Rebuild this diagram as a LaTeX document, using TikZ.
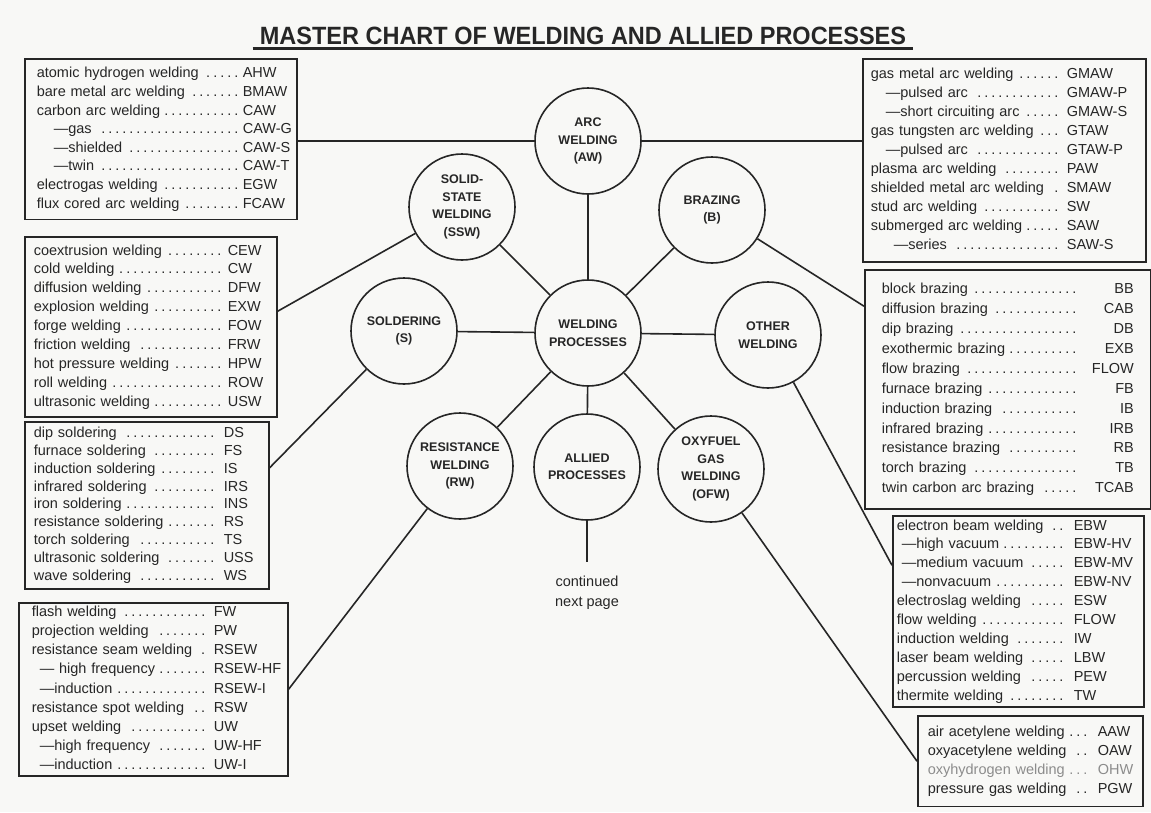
\documentclass[tikz,border=0pt]{standalone}
\usepackage{fontspec}
\setmainfont{Liberation Sans}
\usepackage{tikz}
\usetikzlibrary{calc}
\definecolor{ink}{HTML}{262626}
\definecolor{paper}{HTML}{F8F8F6}
\definecolor{faded}{HTML}{8C8C8C}
\newlength{\namecol}
\newcommand{\dotsto}{\leaders\hbox to 7pt{\hss.\hss}\hfill}
\newcommand{\ent}[2]{\strut\makebox[\namecol][l]{#1\,\dotsto}\kern3pt\mbox{#2}}
\newcommand{\subent}[3][17pt]{\ent{\hspace*{#1}---#2}{#3}}
\newcommand{\rent}[2]{\strut\makebox[\namecol][l]{#1\,\dotsto}\makebox[52pt][r]{#2}}
\newcommand{\listfont}[1]{\fontsize{14.5pt}{#1pt}\selectfont}
\tikzset{
    proc/.style={circle, draw=ink, line width=1.6pt, minimum size=106pt, inner sep=0pt, align=center,
                 text=ink, font=\bfseries\fontsize{12.5pt}{17.5pt}\selectfont},
    list/.style={draw=ink, line width=1.6pt, anchor=north west, text=ink, align=left},
    link/.style={draw=ink, line width=1.6pt}
}

\begin{document}
\begin{tikzpicture}[x=1pt, y=-1pt]
        \fill[paper] (0,0) rectangle (1151,812);
        \useasboundingbox (0,0) rectangle (1151,812);
        % title
        \node[anchor=base, inner xsep=7pt, inner ysep=4pt, text=ink,
              font=\bfseries\fontsize{25pt}{30pt}\selectfont] (title) at (583,44)
              {\scalebox{0.94}[1]{MASTER CHART OF WELDING AND ALLIED PROCESSES}};
        \draw[link, line width=2.2pt] (title.south west) -- (title.south east);
        % process circles
        \node[proc] (wp)  at (588,333) {WELDING\\PROCESSES};
        \node[proc] (aw)  at (588,141) {ARC\\WELDING\\(AW)};
        \node[proc] (ssw) at (462,207) {SOLID-\\STATE\\WELDING\\(SSW)};
        \node[proc] (br)  at (712,210) {BRAZING\\(B)};
        \node[proc] (sol) at (404,331) {SOLDERING\\(S)};
        \node[proc] (oth) at (768,335) {OTHER\\WELDING};
        \node[proc] (rw)  at (460,466) {RESISTANCE\\WELDING\\(RW)};
        \node[proc] (ap)  at (587,467) {ALLIED\\PROCESSES};
        \node[proc] (ofw) at (711,469) {OXYFUEL\\GAS\\WELDING\\(OFW)};
        \foreach \n in {aw,ssw,br,sol,oth,rw,ap,ofw} \draw[link] (wp) -- (\n);
        % continued
        \coordinate (apend) at (587,562);
        \draw[link] (ap) -- (apend);
        \node[text=ink, align=center, font=\fontsize{14.5pt}{20pt}\selectfont] (cont) at (587,593) {continued\\next page};
        % process lists
        \node[list, text width=248pt, inner xsep=12pt, inner ysep=6pt, font={\listfont{18.6}}] (awl) at (24,58) {%
            \setlength{\namecol}{203pt}%
            \ent{atomic hydrogen welding}{AHW}\\
            \ent{bare metal arc welding}{BMAW}\\
            \ent{carbon arc welding}{CAW}\\
            \subent{gas}{CAW-G}\\
            \subent{shielded}{CAW-S}\\
            \subent{twin}{CAW-T}\\
            \ent{electrogas welding}{EGW}\\
            \ent{flux cored arc welding}{FCAW}};
        \node[list, text width=267pt, inner xsep=8pt, inner ysep=6.7pt, font={\listfont{19}}] (awr) at (862,58) {%
            \setlength{\namecol}{193pt}%
            \ent{gas metal arc welding}{GMAW}\\
            \subent[15pt]{pulsed arc}{GMAW-P}\\
            \subent[15pt]{short circuiting arc}{GMAW-S}\\
            \ent{gas tungsten arc welding}{GTAW}\\
            \subent[15pt]{pulsed arc}{GTAW-P}\\
            \ent{plasma arc welding}{PAW}\\
            \ent{shielded metal arc welding}{SMAW}\\
            \ent{stud arc welding}{SW}\\
            \ent{submerged arc welding}{SAW}\\
            \subent[23pt]{series}{SAW-S}};
        \node[list, text width=234pt, inner xsep=9pt, inner ysep=5pt, font={\listfont{18.9}}] (sswl) at (24,236) {%
            \setlength{\namecol}{191pt}%
            \ent{coextrusion welding}{CEW}\\
            \ent{cold welding}{CW}\\
            \ent{diffusion welding}{DFW}\\
            \ent{explosion welding}{EXW}\\
            \ent{forge welding}{FOW}\\
            \ent{friction welding}{FRW}\\
            \ent{hot pressure welding}{HPW}\\
            \ent{roll welding}{ROW}\\
            \ent{ultrasonic welding}{USW}};
        \node[list, text width=252pt, inner xsep=17pt, inner ysep=10pt, font={\listfont{19.9}}] (brl) at (864,269) {%
            \setlength{\namecol}{200pt}%
            \rent{block brazing}{BB}\\
            \rent{diffusion brazing}{CAB}\\
            \rent{dip brazing}{DB}\\
            \rent{exothermic brazing}{EXB}\\
            \rent{flow brazing}{FLOW}\\
            \rent{furnace brazing}{FB}\\
            \rent{induction brazing}{IB}\\
            \rent{infrared brazing}{IRB}\\
            \rent{resistance brazing}{RB}\\
            \rent{torch brazing}{TB}\\
            \rent{twin carbon arc brazing}{TCAB}};
        \node[list, text width=226pt, inner xsep=9pt, inner ysep=3pt, font={\listfont{17.9}}] (soll) at (24,421) {%
            \setlength{\namecol}{187pt}%
            \ent{dip soldering}{DS}\\
            \ent{furnace soldering}{FS}\\
            \ent{induction soldering}{IS}\\
            \ent{infrared soldering}{IRS}\\
            \ent{iron soldering}{INS}\\
            \ent{resistance soldering}{RS}\\
            \ent{torch soldering}{TS}\\
            \ent{ultrasonic soldering}{USS}\\
            \ent{wave soldering}{WS}};
        \node[list, text width=243pt, inner xsep=4pt, inner ysep=1pt, font={\listfont{18.9}}] (othl) at (892,515) {%
            \setlength{\namecol}{174pt}%
            \ent{electron beam welding}{EBW}\\
            \subent[5pt]{high vacuum}{EBW-HV}\\
            \subent[5pt]{medium vacuum}{EBW-MV}\\
            \subent[5pt]{nonvacuum}{EBW-NV}\\
            \ent{electroslag welding}{ESW}\\
            \ent{flow welding}{FLOW}\\
            \ent{induction welding}{IW}\\
            \ent{laser beam welding}{LBW}\\
            \ent{percussion welding}{PEW}\\
            \ent{thermite welding}{TW}};
        \node[list, text width=243pt, inner xsep=13pt, inner ysep=0.5pt, font={\listfont{19.1}}] (rwl) at (18,602) {%
            \setlength{\namecol}{179pt}%
            \ent{flash welding}{FW}\\
            \ent{projection welding}{PW}\\
            \ent{resistance seam welding}{RSEW}\\
            \subent[8pt]{ high frequency}{RSEW-HF}\\
            \subent[8pt]{induction}{RSEW-I}\\
            \ent{resistance spot welding}{RSW}\\
            \ent{upset welding}{UW}\\
            \subent[8pt]{high frequency}{UW-HF}\\
            \subent[8pt]{induction}{UW-I}};
        \node[list, text width=205pt, inner xsep=10pt, inner ysep=8pt, font={\listfont{18.7}}] (ofwl) at (917,715) {%
            \setlength{\namecol}{167pt}%
            \ent{air acetylene welding}{AAW}\\
            \ent{oxyacetylene welding}{OAW}\\
            \textcolor{faded}{\ent{oxyhydrogen welding}{OHW}}\\
            \ent{pressure gas welding}{PGW}};
        % leaders to the lists
        \draw[link] (aw) -- (aw -| awl.east);
        \draw[link] (aw) -- (aw -| awr.west);
        \draw[link] (ssw) -- (sswl.7);
        \draw[link] (br) -- (brl.150);
        \draw[link] (sol) -- (soll.17);
        \draw[link] (oth) -- (othl.160);
        \draw[link] (rw) -- (rwl.east);
        \draw[link] (ofw) -- (ofwl.west);
    \end{tikzpicture}
\end{document}
